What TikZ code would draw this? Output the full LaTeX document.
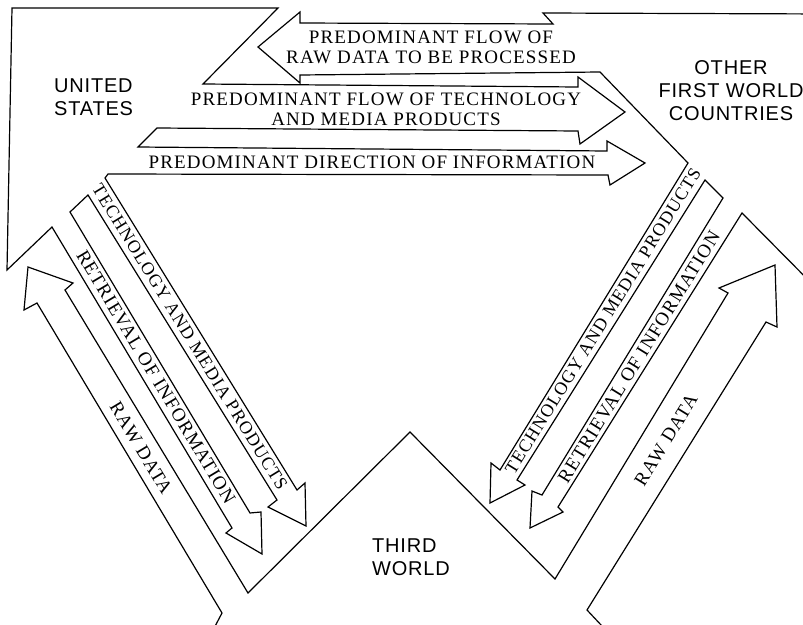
\documentclass[tikz,border=0pt]{standalone}
\usepackage{fontspec}
\setmainfont{Liberation Serif}
\newfontfamily\arrowfont[LetterSpace=6]{Liberation Serif}
\newfontfamily\regionfont[LetterSpace=4]{Liberation Sans}
\begin{document}
\begin{tikzpicture}[x=1pt,y=-1pt,
  outline/.style={draw=black, line width=1.2pt, line join=miter},
  arrowlabel/.style={font=\arrowfont\fontsize{19}{20}\selectfont, inner sep=0pt, align=center},
  techlabel/.style={font=\arrowfont\fontsize{18}{20}\selectfont, inner sep=0pt},
  regionlabel/.style={font=\regionfont\fontsize{20}{23}\selectfont, inner sep=0pt}]
\useasboundingbox (0,0) rectangle (803,624);
\clip (0,0) rectangle (803,624);
% United States with its outgoing arrows
\draw[outline] (12,8) -- (278,8) -- (203,84) -- (578,87) -- (578,77) -- (625,112)
  -- (580,144) -- (578,131) -- (157,128) -- (138,147) -- (607,151) -- (607,141)
  -- (645,163) -- (610,185) -- (608,175) -- (108,174) -- (105,178) -- (297,490)
  -- (305,483) -- (306,526) -- (268,507) -- (277,500) -- (88,195) -- (70,212)
  -- (250,513) -- (261,512) -- (262,554) -- (226,533) -- (232,528) -- (52,227)
  -- (7,270) -- cycle;
% Other first world countries with its outgoing arrows
\draw[outline] (830,14) -- (543,13) -- (553,24) -- (300,23) -- (300,12) -- (258,47)
  -- (300,83) -- (300,75) -- (600,72) -- (688,163) -- (500,470) -- (491,463)
  -- (490,503) -- (525,485) -- (517,480) -- (705,180) -- (723,198) -- (542,495)
  -- (532,491) -- (530,528) -- (563,512) -- (558,507) -- (742,213) -- (830,302);
% Third world with its outgoing arrows
\draw[outline] (212,632) -- (222,613) -- (37,303) -- (24,310) -- (28,267) -- (73,283)
  -- (65,290) -- (248,593) -- (410,432) -- (555,579) -- (728,293) -- (719,288)
  -- (775,265) -- (777,327) -- (766,322) -- (587,610) -- (602,626);
% region labels
\node[regionlabel, anchor=west, align=left] (us) at (54,97) {UNITED\\STATES};
\node[regionlabel, align=center] (ofw) at (731,91) {OTHER\\FIRST WORLD\\COUNTRIES};
\node[regionlabel, anchor=west, align=left] (tw) at (372,557) {THIRD\\WORLD};
% horizontal arrow labels
\node[arrowlabel] (rawtop) at (431,47) {PREDOMINANT FLOW OF\\RAW DATA TO BE PROCESSED};
\node[arrowlabel] (techtop) at (386,109) {PREDOMINANT FLOW OF TECHNOLOGY\\AND MEDIA PRODUCTS};
\node[arrowlabel] (infotop) at (372,162) {PREDOMINANT DIRECTION OF INFORMATION};
% left bundle labels
\node[techlabel, rotate=-58.3] (techleft) at (190,337) {TECHNOLOGY AND MEDIA PRODUCTS};
\node[arrowlabel, rotate=-59.1] (retrleft) at (156,377) {RETRIEVAL OF INFORMATION};
\node[arrowlabel, rotate=-59] (rawleft) at (141,448) {RAW DATA};
% right bundle labels
\node[techlabel, rotate=58.2] (techright) at (603,321) {TECHNOLOGY AND MEDIA PRODUCTS};
\node[arrowlabel, rotate=58.3] (retrright) at (639,357) {RETRIEVAL OF INFORMATION};
\node[arrowlabel, rotate=58.4] (rawright) at (666,440) {RAW DATA};
\end{tikzpicture}
\end{document}
